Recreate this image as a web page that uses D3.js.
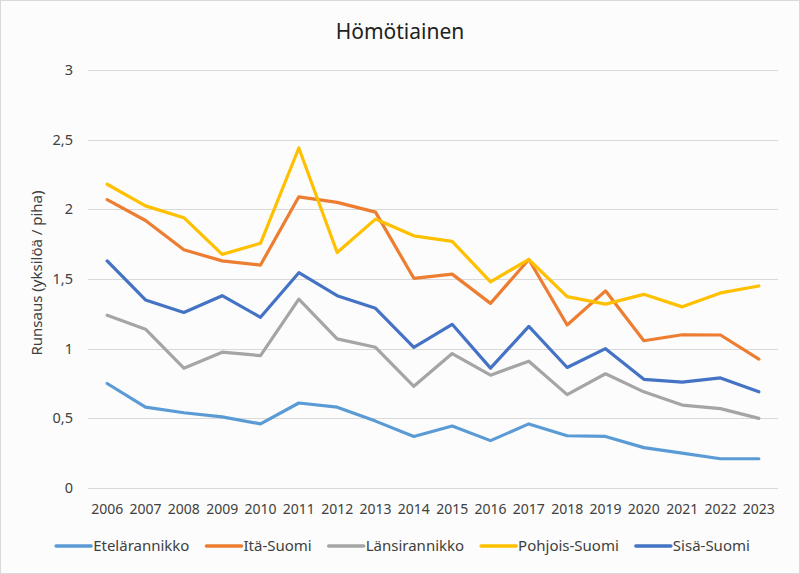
<!DOCTYPE html>
<html><head><meta charset="utf-8">
<script src="https://cdn.jsdelivr.net/npm/d3@7"></script>
<style>html,body{margin:0;padding:0;background:#fff}svg{display:block}</style>
</head><body>
<svg id="chart" width="800" height="574"></svg>
<script>
const title = "Hömötiainen";
const yLabel = "Runsaus (yksilöä / piha)";
const years = ["2006","2007","2008","2009","2010","2011","2012","2013","2014","2015","2016","2017","2018","2019","2020","2021","2022","2023"];
const yTicks = [0, 0.5, 1, 1.5, 2, 2.5, 3];
const seriesNames = ["Etelärannikko","Itä-Suomi","Länsirannikko","Pohjois-Suomi","Sisä-Suomi"];
const etelarannikko = [0.75,0.58,0.54,0.51,0.46,0.61,0.58,0.48,0.37,0.445,0.34,0.46,0.375,0.37,0.29,0.25,0.21,0.21];
const itaSuomi      = [2.07,1.92,1.71,1.63,1.60,2.09,2.05,1.98,1.505,1.535,1.325,1.64,1.17,1.415,1.057,1.10,1.098,0.925];
const lansirannikko = [1.24,1.14,0.86,0.975,0.95,1.355,1.07,1.01,0.73,0.965,0.81,0.91,0.67,0.82,0.69,0.595,0.57,0.50];
const pohjoisSuomi  = [2.18,2.025,1.94,1.677,1.756,2.44,1.69,1.93,1.81,1.77,1.48,1.64,1.373,1.32,1.39,1.30,1.40,1.45];
const sisaSuomi     = [1.63,1.35,1.26,1.38,1.225,1.545,1.38,1.29,1.01,1.175,0.86,1.16,0.865,1.0,0.78,0.76,0.79,0.69];
const colors = ["#5B9BD5","#ED7D31","#A5A5A5","#FFC000","#4472C4"];

const seriesValues = [etelarannikko, itaSuomi, lansirannikko, pohjoisSuomi, sisaSuomi];
const series = seriesNames.map((n,i)=>({name:n, values:seriesValues[i], color:colors[i]}));

const svg = d3.select("#chart");
const W = 800, H = 574;
const font = "'Noto Sans', 'Open Sans', sans-serif";
const m = {left:88, right:22, top:70, bottom:86};

svg.append("rect").attr("x",0.5).attr("y",0.5).attr("width",W-1).attr("height",H-1)
  .attr("fill","#fbfcfb").attr("stroke","#d9d9d9").attr("stroke-width",1);

const x = d3.scaleBand().domain(years).range([m.left, W-m.right]);
const y = d3.scaleLinear().domain([0,3]).range([H-m.bottom, m.top]);

// grid
svg.append("g").selectAll("line").data(yTicks).join("line")
  .attr("x1", m.left).attr("x2", W-m.right)
  .attr("y1", d=>Math.round(y(d))+0.5).attr("y2", d=>Math.round(y(d))+0.5)
  .attr("stroke","#d9d9d9").attr("stroke-width",1);

// y axis labels
const yAxis = d3.axisLeft(y).tickValues(yTicks).tickSize(0).tickPadding(0)
  .tickFormat(d=>String(d).replace(".",","));
const gy = svg.append("g").attr("transform",`translate(${m.left-15},0)`).call(yAxis);
gy.select(".domain").remove();
gy.selectAll("text").attr("font-family",font).attr("font-size",14.5).attr("fill","#404040");

// x axis labels
const xAxis = d3.axisBottom(x).tickSize(0).tickPadding(0);
const gx = svg.append("g").attr("transform",`translate(0,${H-m.bottom+16})`).call(xAxis);
gx.select(".domain").remove();
gx.selectAll("text").attr("font-family",font).attr("font-size",14).attr("fill","#404040");

// lines
const line = d3.line().x((d,i)=>x(years[i])+x.bandwidth()/2).y(d=>y(d));
svg.append("g").selectAll("path").data(series).join("path")
  .attr("d", d=>line(d.values)).attr("fill","none")
  .attr("stroke", d=>d.color).attr("stroke-width",3.2)
  .attr("stroke-linejoin","round").attr("stroke-linecap","round");

// title
svg.append("text").attr("x",400).attr("y",39).attr("text-anchor","middle")
  .attr("font-family",font).attr("font-size",21).attr("fill","#222").text(title);

// y label
svg.append("text").attr("transform",`translate(42,${(y(0)+y(3))/2-6}) rotate(-90)`)
  .attr("text-anchor","middle").attr("font-family",font).attr("font-size",15)
  .attr("fill","#404040").text(yLabel);

// legend
const lg = svg.append("g");
const ly = 546;
const items = [];
series.forEach(s=>{
  const g = lg.append("g");
  g.append("line").attr("x1",0).attr("x2",35).attr("y1",0).attr("y2",0)
    .attr("stroke",s.color).attr("stroke-width",3.5).attr("stroke-linecap","round");
  const t = g.append("text").attr("x",37).attr("y",5).attr("font-family",font)
    .attr("font-size",15).attr("fill","#404040").text(s.name);
  const w = 37 + t.node().getComputedTextLength();
  items.push({g, w});
});
const gap = 17;
const total = d3.sum(items, d=>d.w) + gap*(items.length-1);
let start = 403 - total/2;
items.forEach(it=>{ it.g.attr("transform",`translate(${start},${ly})`); start += it.w + gap; });
</script>
</body></html>
